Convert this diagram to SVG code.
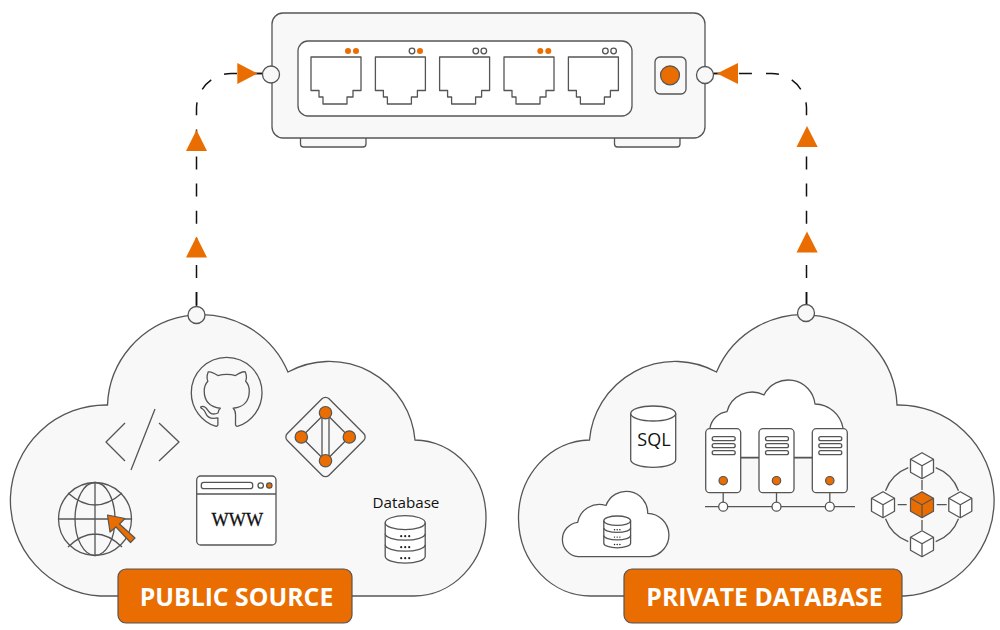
<svg xmlns="http://www.w3.org/2000/svg" width="1000" height="630" viewBox="0 0 1000 630">
  <style>
    .ln { fill: none; stroke: #555; stroke-width: 1.3; vector-effect: non-scaling-stroke; stroke-linejoin: round; }
    .bg { fill: #f8f8f8; stroke: #555; stroke-width: 1.3; vector-effect: non-scaling-stroke; }
    .wh { fill: #fff; stroke: #555; stroke-width: 1.3; vector-effect: non-scaling-stroke; stroke-linejoin: round; }
    .or { fill: #e96d00; stroke: #555; stroke-width: 1.2; vector-effect: non-scaling-stroke; stroke-linejoin: round; }
    .led { fill: #e96d00; }
    .tri { fill: #e96d00; }
    .dash { fill: none; stroke: #111; stroke-width: 1.5; stroke-dasharray: 13 14.1; }
    .solid { fill: none; stroke: #111; stroke-width: 1.5; }
    .joint { fill: #f8f8f8; stroke: #555; stroke-width: 1.3; }
    .title { font: 700 24.800px "Open Sans", "Liberation Sans", sans-serif; fill: #fff; text-anchor: middle; }
    .sans { font-family: "Open Sans", "Liberation Sans", sans-serif; fill: #111; text-anchor: middle; }
    .dots { fill: #222; }
  </style>
  <defs>
    <path id="jack" class="wh" d="M0 0H50V33.500H42V40H36V47H12V40H8V33.500H0Z"/>
    <g id="stack">
      <path class="wh" d="M-20 0A20 7 0 0 1 20 0V33.500A20 7 0 0 1 -20 33.500Z"/>
      <path class="ln" d="M-20 0A20 7 0 0 0 20 0M-20 11A20 6.500 0 0 0 20 11M-20 22A20 6.500 0 0 0 20 22"/>
      <g class="dots">
        <circle cx="-4" cy="13.500" r="1.100"/><circle cx="0" cy="13.500" r="1.100"/><circle cx="4" cy="13.500" r="1.100"/>
        <circle cx="-4" cy="24.500" r="1.100"/><circle cx="0" cy="24.500" r="1.100"/><circle cx="4" cy="24.500" r="1.100"/>
        <circle cx="-4" cy="35.500" r="1.100"/><circle cx="0" cy="35.500" r="1.100"/><circle cx="4" cy="35.500" r="1.100"/>
      </g>
    </g>
    <g id="rack">
      <rect class="wh" x="0" y="0" width="35" height="64" rx="4"/>
      <rect class="ln" x="6.500" y="8" width="23" height="4" rx="2"/>
      <rect class="ln" x="6.500" y="15" width="23" height="4" rx="2"/>
      <rect class="ln" x="6.500" y="22" width="23" height="4" rx="2"/>
      <circle class="or" cx="17.500" cy="52" r="4.200"/>
      <path class="ln" d="M17.500 64V78"/>
      <circle class="wh" cx="17.500" cy="78" r="4.500"/>
    </g>
    <g id="cube">
      <path d="M0 -13L11.500 -6.500V6.500L0 13L-11.500 6.500V-6.500Z"/>
      <path fill="none" d="M-11.500 -6.500L0 0L11.500 -6.500M0 0V13"/>
    </g>
  </defs>

  <!-- dashed links and their direction marks -->
  <g id="connectors">
    <path class="dash" d="M196.500 305V108.500A35 35 0 0 1 231.500 73.500H264"/>
    <path class="dash" d="M806.500 305V108.500A35 35 0 0 0 771.500 73.500H712"/>
    <path class="solid" d="M196.500 292V307M806.500 292V305M255 73.500H264M712 73.500H720"/>
  </g>

  <g id="switch">
    <rect x="300.500" y="130" width="65.500" height="17" rx="3" class="bg"/>
    <rect x="614.500" y="130" width="65.500" height="17" rx="3" class="bg"/>
    <rect x="272" y="13" width="433" height="125" rx="11" class="bg"/>
    <rect x="298" y="41" width="334" height="75" rx="10" class="wh"/>
    <use href="#jack" x="311" y="57"/>
    <use href="#jack" x="375.400" y="57"/>
    <use href="#jack" x="439.600" y="57"/>
    <use href="#jack" x="504" y="57"/>
    <use href="#jack" x="568.400" y="57"/>
    <circle class="led" cx="348" cy="51" r="3"/>
    <circle class="led" cx="356" cy="51" r="3"/>
    <circle class="wh" cx="412" cy="51" r="2.800"/>
    <circle class="led" cx="420" cy="51" r="3"/>
    <circle class="wh" cx="475.800" cy="51" r="2.800"/>
    <circle class="wh" cx="483.800" cy="51" r="2.800"/>
    <circle class="led" cx="540.300" cy="51" r="3"/>
    <circle class="led" cx="548.300" cy="51" r="3"/>
    <circle class="wh" cx="605.400" cy="51" r="2.800"/>
    <circle class="wh" cx="613.600" cy="51" r="2.800"/>
    <rect x="655" y="57" width="31" height="37" rx="5" class="bg"/>
    <circle class="or" cx="670" cy="75.300" r="9.500"/>
  </g>

  <g id="public-source">
    <path class="bg" d="M118 596H100A95.600 95.600 0 0 1 107.500 405A94 94 0 0 1 288 372A86 86 0 0 1 415 440A72 78 0 0 1 413 596H352"/>
    <g id="code-icon">
      <path class="ln" d="M125 423L106 442L125 461M159 423L179 442L159 461M155 409L131 470"/>
    </g>
    <g id="github-icon" transform="translate(191.300 357.300) scale(4.420)">
      <path class="ln" d="M8 0C3.580 0 0 3.580 0 8c0 3.540 2.290 6.530 5.470 7.590.4.070.55-.17.55-.38 0-.19-.01-.82-.01-1.490-2.010.37-2.530-.49-2.690-.94-.09-.23-.48-.94-.82-1.130-.28-.15-.68-.52-.01-.53.63-.01 1.080.58 1.230.82.72 1.210 1.870.87 2.330.66.070-.52.28-.87.51-1.070-1.780-.2-3.640-.89-3.640-3.950 0-.87.31-1.590.82-2.150-.08-.2-.36-1.020.08-2.120 0 0 .67-.21 2.200.82.64-.18 1.320-.27 2-.27.68 0 1.360.09 2 .27 1.530-1.040 2.200-.82 2.200-.82.44 1.100.16 1.920.08 2.120.51.56.82 1.270.82 2.150 0 3.070-1.870 3.750-3.650 3.950.29.25.54.730.54 1.480 0 1.070-.01 1.930-.01 2.200 0 .21.15.46.55.38A8.013 8.013 0 0016 8c0-4.420-3.580-8-8-8z"/>
    </g>
    <g id="graph-icon">
      <rect class="ln" x="-29.500" y="-29.500" width="59" height="59" rx="5" transform="translate(325.500 437) rotate(45)"/>
      <path class="ln" d="M322 413V461M329 413V461M325.500 413L301.300 437L325.500 461L349.300 437Z"/>
      <circle class="or" cx="325.500" cy="412.700" r="6.200"/>
      <circle class="or" cx="301.300" cy="437" r="6.200"/>
      <circle class="or" cx="349.300" cy="437" r="6.200"/>
      <circle class="or" cx="325.500" cy="460.700" r="6.200"/>
    </g>
    <g id="globe-icon">
      <circle class="ln" cx="95" cy="519" r="36.500"/>
      <ellipse class="ln" cx="95" cy="519" rx="20" ry="36.500"/>
      <path class="ln" d="M95 482.500V555.500M58.500 519H131.500M68 493Q95 517 122 493M68 547Q95 521 122 547"/>
      <path class="or" d="M107.500 515L125 518.500L119.500 524L135 538L130.500 542.500L116 527L110 532Z"/>
    </g>
    <g id="browser-icon">
      <rect class="wh" x="196.700" y="476" width="79.300" height="69" rx="4"/>
      <path class="ln" d="M196.700 494H276"/>
      <rect class="ln" x="201.300" y="482.300" width="51.400" height="6.400" rx="2.500"/>
      <circle class="ln" cx="260.700" cy="485.500" r="2.700"/>
      <circle class="or" cx="269.300" cy="485.500" r="2.700"/>
      <text x="237.300" y="526" font-family="Liberation Serif, serif" font-size="18.200" fill="#111" stroke="#111" stroke-width=".3" text-anchor="middle">WWW</text>
    </g>
    <g id="database-icon">
      <text class="sans" x="406" y="508" font-size="15.200">Database</text>
      <use href="#stack" transform="translate(405.200 522.700)"/>
    </g>
    <rect class="or" x="118" y="569" width="234" height="54" rx="8"/>
    <text class="title" x="236.500" y="606">PUBLIC SOURCE</text>
  </g>

  <g id="private-database">
    <path class="bg" d="M624 596H591.500A72 78 0 0 1 589.500 440A86 86 0 0 1 716.500 372A94 94 0 0 1 897 405A95.600 95.600 0 0 1 904.500 596H902"/>
    <g id="sql-icon">
      <path class="wh" d="M630.700 413.500A22.500 7.500 0 0 1 675.700 413.500V459.800A22.500 7.500 0 0 1 630.700 459.800Z"/>
      <path class="ln" d="M630.700 413.500A22.500 7.500 0 0 0 675.700 413.500"/>
      <text class="sans" x="654" y="446" font-size="18">SQL</text>
    </g>
    <g id="cloud-storage-icon">
      <path class="wh" d="M578 556.700A17.300 17.300 0 0 1 577.700 522.300A22 22 0 0 1 606 505.500A21.500 21.500 0 0 1 647.700 513.300A21.800 21.800 0 0 1 650 556.700Z"/>
      <use href="#stack" transform="translate(617.200 520.700) scale(.67)"/>
    </g>
    <g id="server-cluster-icon">
      <path class="wh" d="M710 458V428A20 20 0 0 1 727 411.700A26 26 0 0 1 764 395A27 27 0 0 1 815 404A29 29 0 0 1 843 428V458Z"/>
      <rect x="710.500" y="458.500" width="132" height="34" fill="#f8f8f8"/>
      <path class="ln" d="M740 457.500H812"/>
      <path class="ln" d="M705 506.700H855"/>
      <use href="#rack" x="705.700" y="428.700"/>
      <use href="#rack" x="759" y="428.700"/>
      <use href="#rack" x="812.300" y="428.700"/>
    </g>
    <g id="cube-ring-icon">
      <path class="ln" d="M935.700 467.700A39.500 39.500 0 0 1 958.500 490.700M958.500 518.700A39.500 39.500 0 0 1 935.700 541.700M908.300 541.700A39.500 39.500 0 0 1 885.500 518.700M885.500 490.700A39.500 39.500 0 0 1 908.300 467.700"/>
      <path class="ln" d="M922 480V490M922 520V530M897.700 504.700H906.700M936.700 504.700H946.700"/>
      <use href="#cube" class="wh" transform="translate(922 465.700)"/>
      <use href="#cube" class="wh" transform="translate(922 543.700)"/>
      <use href="#cube" class="wh" transform="translate(883 504.700)"/>
      <use href="#cube" class="wh" transform="translate(960.300 504.700)"/>
      <use href="#cube" class="or" transform="translate(922 504.700)"/>
    </g>
    <rect class="or" x="624" y="569" width="278" height="54" rx="8"/>
    <text class="title" x="764.500" y="606">PRIVATE DATABASE</text>
  </g>

  <!-- link ends and arrowheads sit above the node bodies -->
  <g id="link-ends">
    <circle class="joint" cx="271" cy="74.500" r="8.500"/>
    <circle class="joint" cx="705" cy="75" r="8.500"/>
    <circle class="joint" cx="196.500" cy="315" r="8.500"/>
    <circle class="joint" cx="806" cy="313" r="8.500"/>
    <path class="tri" d="M237.300 63L257.500 73.500L237.300 84Z"/>
    <path class="tri" d="M738 63L717 73.500L738 84Z"/>
    <path class="tri" d="M196.500 130L207 151H186Z"/>
    <path class="tri" d="M196.500 236.500L207 257.500H186Z"/>
    <path class="tri" d="M807 126L817.700 147H796.500Z"/>
    <path class="tri" d="M807 231.500L817.700 252.500H796.500Z"/>
  </g>
</svg>
